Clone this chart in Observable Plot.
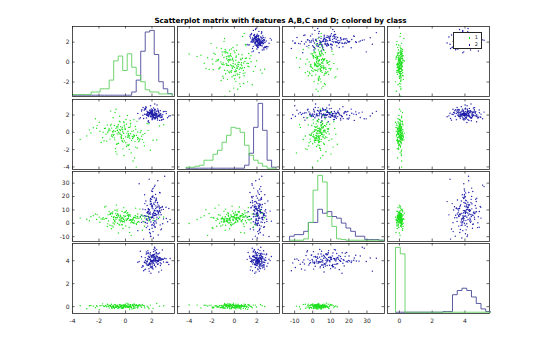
<!DOCTYPE html>
<html><head><meta charset="utf-8">
<script src="https://cdn.jsdelivr.net/npm/d3@7"></script>
<script src="https://cdn.jsdelivr.net/npm/@observablehq/plot@0.6"></script>
<style>
body{margin:0;background:#fff;}
#chart{position:relative;width:540px;height:356px;overflow:hidden;font-family:"DejaVu Sans",sans-serif;}
#title{position:absolute;left:72px;width:417px;top:17px;text-align:center;font-weight:bold;font-size:7.2px;line-height:7px;color:#000;white-space:nowrap;}
#legend{position:absolute;left:453px;top:32px;width:29px;height:17px;border:1px solid #262626;background:#fff;box-sizing:border-box;font-size:5px;color:#262626;}
#legend div{position:absolute;right:3px;line-height:5px;}
#legend span{position:absolute;left:-6px;top:2px;width:1.5px;height:1.5px;}
svg{position:absolute;}
</style></head><body>
<div id="chart"><div id="title">Scatterplot matrix with features A,B,C and D; colored by class</div></div>
<script>
// ---- class 1 (green) samples ----
const greenA = [-0.27,0.46,-1.18,0.13,-0.84,1.32,-0.41,0.17,-1.93,0.72,
 -0.06,-0.63,0.88,-1.37,0.26,-0.22,-2.61,0.04,1.09,-0.94,
 -0.52,0.38,-1.07,0.61,-0.73,1.77,-0.32,-1.58,0.23,-0.44,
 2.36,-0.97,0.08,-0.57,0.83,-2.14,-0.18,0.52,-0.79,1.46,
 -1.28,-0.12,0.31,-3.42,0.93,-0.47,-0.91,0.02,1.18,-1.73,
 0.41,-0.36,0.57,-1.23,-0.16,2.88,-0.68,0.19,-1.02,0.74,
 -0.33,-2.27,1.04,-0.62,0.28,-1.51,0.11,-0.83,1.63,-0.08,
 -0.43,0.81,-1.13,-2.92,0.77,-0.24,-0.87,0.36,1.27,-0.53,
 -1.84,-0.03,0.64,-0.71,2.08,-1.32,-0.29,0.22,-0.58,0.97,
 -1.04,-0.14,0.43,-1.98,0.91,-0.38,-1.42,0.07,0.68,-0.76,
 0.18,-0.67,1.38,-0.21,-1.08,0.54,-0.49,0.87,-1.62,-0.02,
 -0.31,1.12,-0.93,0.27,-2.18,0.59,-0.09,-0.64,1.71,-1.17,
 0.37,-0.42,-0.98,0.78,-0.19,2.57,-0.81,0.14,-1.47,0.48,
 -0.61,0.24,1.21,-1.34,-0.11,0.69,-2.72,0.33,-0.54,1.01,
 -0.89,0.01,0.63,-0.26,-1.69,1.43,-0.72,0.21,-0.37,0.92,
 -1.12,0.39,-0.23,-2.43,0.58,-0.78,1.88,-0.13,0.29,-0.59];
const greenB = [0.38,-0.93,0.24,-1.46,0.79,-0.27,1.21,-0.58,0.12,-1.07,
 0.63,-0.18,-1.82,0.86,-0.54,0.31,-0.07,1.48,-0.77,0.03,
 -1.27,0.72,-0.43,0.17,-2.24,0.98,-0.69,0.44,-0.16,1.87,
 -0.88,0.09,-1.63,0.52,-0.34,0.81,-1.13,-0.47,2.31,-0.12,
 0.27,-2.68,0.57,-0.83,0.04,1.29,-0.38,-1.21,0.19,-0.62,
 1.07,-0.23,-3.31,0.42,-0.73,0.87,-1.38,0.13,-0.28,0.68,
 -0.51,1.58,-0.91,0.22,-1.97,0.47,-0.09,-0.64,1.03,-0.99,
 0.32,-4.02,0.78,-0.41,-1.71,0.59,-0.24,1.37,-0.82,0.01,
 -1.18,0.41,-0.48,2.68,-0.92,0.08,-0.33,-1.53,0.71,-0.67,
 0.49,-0.11,-2.38,1.17,-0.59,0.21,-1.02,0.93,-0.37,-1.88,
 -0.42,0.61,-1.16,0.07,0.94,-0.72,-0.19,1.27,-0.97,0.33,
 -0.63,-0.02,1.68,-1.41,0.48,-0.29,0.82,-2.52,0.23,-0.78,
 0.97,-0.08,-0.53,0.37,-1.91,0.73,-0.87,1.96,-0.21,0.14,
 -1.32,0.58,-0.44,-0.06,1.12,-2.97,0.29,-0.68,0.89,-1.09,
 0.18,-0.52,1.47,-0.93,0.02,-1.57,0.43,-0.31,0.66,-0.81,
 2.46,-0.17,-1.04,0.53,-0.57,0.11,-2.07,1.23,-0.39,0.26];
const greenC = [4.2,1.5,6.8,2.9,-0.5,5.3,3.1,7.9,0.8,4.6,
 2.2,9.1,3.8,-2.4,5.9,1.1,4.9,3.3,10.6,0.2,
 6.1,2.7,-4.1,4.4,7.3,1.9,3.6,12.2,5.0,-1.3,
 3.0,8.4,2.1,4.8,-0.9,6.5,3.4,0.6,9.8,4.0,
 1.7,5.6,-6.8,3.9,7.0,2.5,4.3,-2.0,6.2,3.2,
 0.4,5.1,2.8,8.8,1.3,4.7,13.6,3.5,-1.8,5.8,
 2.4,6.9,0.9,4.1,-3.1,3.7,7.6,2.0,5.4,1.0,
 4.5,-0.2,6.6,3.0,11.3,1.6,4.9,2.6,-5.2,5.7,
 3.3,8.1,0.1,4.2,2.3,6.3,-1.0,3.8,7.2,1.4,
 5.2,2.9,-9.0,4.6,0.7,6.0,3.6,9.4,1.8,4.3,
 3.6,5.9,1.2,4.0,7.7,2.3,-0.7,5.2,3.1,8.6,
 1.8,4.5,-2.8,6.4,2.9,0.5,4.8,10.1,3.4,-1.5,
 5.5,2.0,7.1,3.9,-3.9,4.6,1.5,6.0,12.8,2.6,
 0.0,5.0,3.2,-0.4,8.0,4.3,1.9,6.7,-7.3,3.7,
 2.8,5.3,0.3,9.0,4.1,-2.2,3.0,6.2,1.1,4.9,
 7.4,2.4,-1.2,5.7,3.5,0.9,4.4,11.7,2.2,6.5];
const greenD = [0.05,-0.08,0.12,0.01,-0.15,0.09,0.18,-0.03,0.07,-0.11,
 0.14,0.00,-0.06,0.22,0.04,-0.12,0.10,-0.01,0.16,0.06,
 -0.09,0.03,0.20,-0.04,0.11,-0.18,0.08,0.02,-0.07,0.13,
 0.27,-0.02,0.06,-0.14,0.15,0.00,-0.05,0.10,0.19,-0.10,
 0.04,0.12,-0.21,0.08,-0.03,0.17,0.01,-0.08,0.09,0.24,
 -0.06,0.05,0.13,-0.12,0.02,0.07,-0.01,0.21,-0.16,0.10,
 0.03,-0.09,0.16,0.06,-0.04,0.11,0.30,-0.13,0.04,0.08,
 -0.02,0.14,0.00,-0.19,0.07,0.12,-0.07,0.05,0.18,-0.11,
 0.09,-0.03,0.23,0.01,-0.15,0.06,0.13,-0.05,0.02,0.10,
 -0.08,0.15,0.04,-0.24,0.11,0.03,-0.02,0.08,0.17,-0.06,
 0.06,-0.04,0.11,-0.13,0.02,0.16,-0.07,0.09,0.00,0.20,
 -0.10,0.05,0.13,-0.02,0.08,-0.17,0.03,0.12,-0.05,0.07,
 0.19,-0.09,0.01,0.10,-0.14,0.04,0.15,-0.03,0.06,-0.20,
 0.11,0.00,-0.06,0.18,0.03,-0.11,0.08,0.14,-0.01,0.05,
 -0.08,0.12,0.02,-0.15,0.09,0.06,-0.04,0.22,0.01,-0.12,
 0.07,0.16,-0.07,0.04,0.10,-0.02,0.13,-0.09,0.03,0.08];
// ---- class 2 (blue) samples ----
const blueA = [2.13,1.68,2.41,1.94,2.57,1.52,2.04,2.26,1.83,2.78,
 1.61,2.19,1.97,1.33,2.48,1.87,2.72,2.08,1.42,2.34,
 2.02,1.76,3.06,2.23,1.64,2.38,1.91,1.99,1.12,2.63,
 2.27,1.73,2.14,2.86,1.92,2.21,1.47,2.44,2.01,1.79,
 2.69,1.96,1.58,2.18,3.37,1.89,2.12,1.37,2.53,2.06,
 1.81,2.32,2.61,1.71,1.98,2.24,0.93,2.36,1.86,2.11,
 2.49,1.63,2.03,2.81,2.17,1.77,2.29,1.54,2.09,2.96,
 1.88,2.43,1.69,2.05,2.58,1.31,2.22,1.93,2.52,2.14,
 1.97,1.82,2.67,2.28,1.57,2.07,2.39,1.21,2.02,2.19,
 1.72,2.47,2.13,1.86,3.18,2.04,1.78,2.31,2.62,1.49,
 2.23,1.84,2.46,2.01,1.62,2.27,1.94,2.66,2.12,1.44,
 2.37,1.99,1.72,2.16,2.87,1.76,2.08,2.54,1.51,2.33,
 1.92,2.59,2.03,1.24,2.18,2.42,1.67,2.14,3.27,1.89,
 2.29,1.59,2.02,2.48,1.83,2.24,2.71,1.87,2.09,1.03,
 2.38,1.96,1.81,2.57,2.21,1.46,2.26,2.04,3.08,1.73,
 2.11,2.52,1.88,2.19,1.64,2.76,2.01,2.32,1.79,2.43];
const blueB = [2.04,2.37,1.62,2.18,1.91,2.68,1.53,2.12,2.29,1.78,
 2.46,1.73,2.07,2.88,1.94,2.27,1.41,2.02,2.57,2.16,
 1.83,2.09,2.42,1.58,1.97,3.17,1.86,2.33,1.69,2.51,
 2.21,1.34,2.03,2.39,1.81,2.63,2.08,1.89,1.47,2.26,
 1.98,2.71,1.67,2.24,1.92,2.36,2.82,1.61,2.13,2.01,
 2.28,1.87,2.11,1.22,2.49,1.96,2.19,1.76,2.58,1.72,
 1.93,2.17,2.61,2.04,1.57,2.31,1.88,2.97,2.06,2.43,
 2.14,1.79,2.26,2.53,1.38,1.99,2.67,2.22,1.91,2.09,
 2.41,2.02,1.71,2.18,2.86,1.94,2.12,2.47,1.63,2.34,
 1.84,2.56,1.97,2.32,1.68,2.23,1.13,2.38,2.01,2.77,
 2.08,2.52,1.82,2.27,2.03,1.59,2.44,2.16,1.86,2.69,
 1.74,2.21,1.99,2.48,1.52,2.29,2.07,1.93,2.79,2.04,
 2.36,1.81,2.24,2.62,1.96,1.43,2.32,2.11,1.87,3.07,
 2.19,2.01,1.66,2.42,2.13,2.59,1.77,2.28,1.98,1.56,
 2.47,1.89,2.23,2.02,3.28,2.09,1.72,2.37,2.17,1.92,
 2.03,2.31,1.84,2.64,2.12,1.49,2.41,1.97,2.21,2.72];
const blueC = [8.3,-2.1,15.4,4.7,11.2,0.5,19.8,6.1,-6.9,12.6,
 3.2,9.7,24.1,1.4,7.5,14.2,-4.3,10.8,5.6,17.3,
 -0.8,6.9,12.0,28.5,2.3,9.1,-9.6,13.7,4.9,8.0,
 21.6,5.1,-1.7,10.4,16.2,7.2,0.9,31.8,11.5,3.8,
 6.4,14.9,-3.2,9.3,2.8,18.5,7.8,-11.8,12.9,5.3,
 10.1,0.2,22.7,8.6,4.1,15.8,-5.5,11.9,6.8,26.3,
 3.5,13.3,7.0,-0.3,19.1,9.9,1.8,16.7,5.9,35.2,
 -7.8,12.3,8.8,4.4,23.0,10.6,-2.6,14.5,6.3,2.0,
 17.9,7.4,-4.9,11.0,3.0,20.4,9.5,0.7,13.1,27.4,
 5.0,-8.7,15.1,8.2,1.2,12.4,4.5,18.0,-1.2,10.2,
 9.4,2.6,13.8,-3.7,7.9,16.9,4.2,11.7,0.4,21.3,
 6.6,-1.5,10.9,14.0,3.3,8.5,-6.2,12.2,5.5,18.8,
 1.0,9.0,25.6,6.0,-0.5,15.5,7.7,3.9,11.1,-9.9,
 13.0,5.2,20.1,8.1,2.4,-2.9,10.0,17.4,6.9,29.6,
 4.6,12.8,-4.6,9.8,1.6,14.7,7.3,23.8,3.6,10.5,
 -11.0,8.9,16.3,5.8,0.0,12.0,19.4,6.2,33.0,9.2];
const blueD = [4.08,3.62,4.37,3.91,4.68,3.27,4.03,4.21,3.69,4.93,
 3.79,4.33,3.98,3.52,4.61,4.12,3.18,4.42,3.88,4.04,
 4.47,3.71,4.17,5.08,3.93,4.01,3.41,4.28,4.82,3.58,
 3.97,4.39,3.77,4.13,2.91,4.57,3.86,4.23,3.48,4.31,
 3.73,4.02,4.77,3.61,4.19,3.92,4.52,3.12,4.09,3.99,
 4.27,3.82,4.04,4.71,3.38,4.18,3.87,4.97,3.66,4.41,
 3.94,4.63,3.53,4.11,3.96,3.31,4.29,3.78,4.49,4.22,
 4.03,3.68,4.88,3.89,4.24,3.57,4.14,4.43,3.02,4.06,
 4.38,3.81,4.07,3.47,4.59,3.97,3.91,4.34,3.72,5.17,
 3.63,4.16,4.02,4.53,3.87,3.36,4.12,4.66,3.83,4.27,
 3.99,4.32,3.74,4.46,3.92,4.08,3.51,4.19,4.79,3.84,
 4.36,4.01,3.59,4.24,3.89,4.62,3.28,4.07,4.04,4.72,
 3.76,4.28,3.96,3.43,4.51,3.94,4.17,4.98,3.67,4.13,
 4.21,3.64,4.41,4.02,3.79,4.87,4.09,3.54,4.26,3.93,
 4.58,3.98,3.72,4.23,4.37,3.22,4.03,4.48,3.86,4.14,
 3.81,4.29,4.69,3.62,3.97,4.18,3.88,4.44,3.09,4.01];

// ---- histogram bin counts ----
const histAStart = -3.95, histAWidth = 0.34;
const histAGreen = [2,2,2,2,10,10,20,20,47,107,122,77,129,87,62,42,17,10,10,4,4,4];
const histABlue  = [0,0,0,0,0,0,0,0,0,0,0,0,0,10,47,137,197,202,127,42,20,5];
const histBStart = -4.3, histBWidth = 0.4;
const histBGreen = [1,1,2,3,8,8,14,18,26,33,41,40,36,23,13,8,5,2,0,0];
const histBBlue  = [0,0,0,0,0,0,0,0,0,0,0,0,0,3,15,41,65,38,8,1];
const histCStart = -12.8, histCWidth = 2.6;
const histCGreen = [0,0,0,4,54,152,197,177,72,42,4,2,0,0,0,0,0,0,0,0];
const histCBlue  = [12,17,17,27,54,54,94,82,87,72,67,52,37,27,12,12,2,2,2,0];
const histDStart = -0.24, histDWidth = 0.29;
const histDGreen = [200,180,0,0,0,0,0,0,0,0,0,0,0,0,0,0,0,0,0,0];
const histDBlue  = [0,0,0,0,0,0,0,0,0,0,2,2,54,67,74,67,47,27,10,2];

// ---- axes ----
const features = ["A","B","C","D"];
const xDomains = {A:[-4,3.7], B:[-5.05,4.0], C:[-16.7,39.7], D:[-0.73,5.5]};
const yDomains = {A:[-3.45,3.57], B:[-4.3,3.8], C:[-13.6,38.7], D:[-0.6,5.5]};
const xTickVals = {A:[-4,-2,0,2], B:[-4,-2,0,2], C:[-10,0,10,20,30], D:[0,2,4]};
const yTickVals = {A:[-2,0,2], B:[-4,-2,0,2], C:[-10,0,10,20,30], D:[0,2,4]};
const classes = ["1","2"];

const GREEN = "#1fe01f", BLUE = "#1c1ca8";
const HGREEN = "#5fcf5f", HBLUE = "#4a4a9a";
const INK = "#262626";

const green = greenA.map((a,i)=>({A:a,B:greenB[i],C:greenC[i],D:greenD[i]}));
const blue = blueA.map((a,i)=>({A:a,B:blueB[i],C:blueC[i],D:blueD[i]}));
const hists = {
  A:{start:histAStart,w:histAWidth,g:histAGreen,b:histABlue},
  B:{start:histBStart,w:histBWidth,g:histBGreen,b:histBBlue},
  C:{start:histCStart,w:histCWidth,g:histCGreen,b:histCBlue},
  D:{start:histDStart,w:histDWidth,g:histDGreen,b:histDBlue}
};
function stairs(start,w,counts){
  const pts=[{x:start,y:0}];
  counts.forEach((c,k)=>{pts.push({x:start+k*w,y:c});pts.push({x:start+(k+1)*w,y:c});});
  pts.push({x:start+counts.length*w,y:0});
  return pts;
}

const W=102, H=70, ML=16, MB=14;
const colLeft=[72,177,282,387];
const rowTop=[26,99,171,243];
const chart=document.getElementById("chart");
const baseStyle={background:"transparent",fontFamily:"DejaVu Sans, sans-serif",fontSize:"6px",color:INK,overflow:"visible"};

function place(svg,i,j){
  svg.style.left=(colLeft[j]-ML)+"px";
  svg.style.top=rowTop[i]+"px";
  chart.appendChild(svg);
}

for(let i=0;i<4;i++){
  for(let j=0;j<4;j++){
    const fy=features[i], fx=features[j];
    const marks=[];
    if(i!==j){
      marks.push(Plot.dot(blue,{x:fx,y:fy,r:0.7,fill:BLUE,stroke:null}));
      marks.push(Plot.dot(green,{x:fx,y:fy,r:0.7,fill:GREEN,stroke:null}));
    }
    marks.push(Plot.frame({stroke:INK,strokeWidth:0.8}));
    marks.push(Plot.tickX(xTickVals[fx],{x:d=>d,insetTop:H-2.5,stroke:INK,strokeWidth:0.7}));
    marks.push(Plot.tickX(xTickVals[fx],{x:d=>d,insetBottom:H-2.5,stroke:INK,strokeWidth:0.7}));
    marks.push(Plot.tickY(yTickVals[fy],{y:d=>d,insetRight:W-2.5,stroke:INK,strokeWidth:0.7}));
    marks.push(Plot.tickY(yTickVals[fy],{y:d=>d,insetLeft:W-2.5,stroke:INK,strokeWidth:0.7}));
    if(i===3) marks.push(Plot.axisX({ticks:xTickVals[fx],tickSize:0,tickPadding:5,tickFormat:d=>String(d),fill:INK}));
    if(j===0) marks.push(Plot.axisY({ticks:yTickVals[fy],tickSize:0,tickPadding:3,tickFormat:d=>String(d),fill:INK}));
    const svg=Plot.plot({
      width:W+ML,height:H+MB,marginLeft:ML,marginBottom:MB,marginTop:0,marginRight:0,
      style:baseStyle,
      x:{domain:xDomains[fx],axis:(i===3)?undefined:null,label:null},
      y:{domain:yDomains[fy],axis:(j===0)?undefined:null,label:null},
      marks
    });
    place(svg,i,j);
    if(i===j){
      const h=hists[fx];
      const gmax=Math.max(d3.max(h.g),d3.max(h.b));
      const hs=Plot.plot({
        width:W+ML,height:H+MB,marginLeft:ML,marginBottom:MB,marginTop:0,marginRight:0,
        style:baseStyle,
        x:{domain:xDomains[fx],axis:null},
        y:{domain:[-gmax*0.02,gmax*1.06],axis:null},
        marks:[
          Plot.line(stairs(h.start,h.w,h.b),{x:"x",y:"y",stroke:HBLUE,strokeWidth:0.9}),
          Plot.line(stairs(h.start,h.w,h.g),{x:"x",y:"y",stroke:HGREEN,strokeWidth:0.9})
        ]
      });
      place(hs,i,j);
    }
  }
}
// legend
const leg=document.createElement("div");
leg.id="legend";
classes.forEach((c,k)=>{
  const d=document.createElement("div");
  d.textContent=c;
  d.style.top=(2+k*7)+"px";
  const s=document.createElement("span");
  s.style.background=k===0?GREEN:BLUE;
  d.appendChild(s);
  leg.appendChild(d);
});
chart.appendChild(leg);
</script>
</body></html>
